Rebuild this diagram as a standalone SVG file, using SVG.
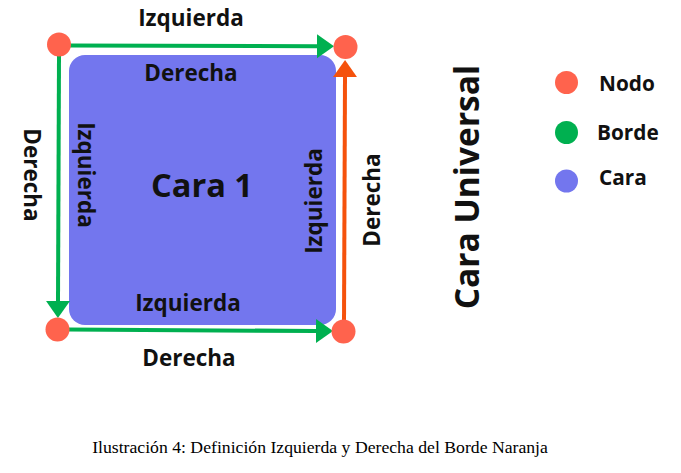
<svg xmlns="http://www.w3.org/2000/svg" width="681" height="473" viewBox="0 0 681 473">
<style>
.lbl{font-family:"Open Sans","DejaVu Sans",sans-serif;font-weight:700;fill:#111;font-size:22.5px}
.leg{font-family:"Open Sans","DejaVu Sans",sans-serif;font-weight:700;fill:#111;font-size:20.8px}
.node{fill:#FF634D}
.edge{fill:none;stroke:#00B050;stroke-width:4}
.edge.orange{stroke:#F5520C}
.cap{font-family:"Liberation Serif","Times New Roman",serif;font-size:17.7px;fill:#000}
</style>
<defs>
<marker id="ag" markerUnits="userSpaceOnUse" markerWidth="20" markerHeight="26" refX="0" refY="12" orient="auto" viewBox="0 0 20 24">
<polygon points="0,0 17,12 0,24" fill="#00B050"/>
</marker>
<marker id="ao" markerUnits="userSpaceOnUse" markerWidth="20" markerHeight="26" refX="0" refY="12" orient="auto" viewBox="0 0 20 24">
<polygon points="0,0 17,12 0,24" fill="#F5520C"/>
</marker>
</defs>
<rect width="681" height="473" fill="#fff"/>
<g id="cara1">
<rect x="69" y="55" width="267" height="270" rx="16" fill="#7376EE"/>
<text class="lbl" x="191" y="81" text-anchor="middle">Derecha</text>
<text class="lbl" x="188" y="311" text-anchor="middle">Izquierda</text>
<text class="lbl" transform="translate(78,175) rotate(90)" text-anchor="middle">Izquierda</text>
<text class="lbl" transform="translate(322,201) rotate(-90)" text-anchor="middle">Izquierda</text>
<text class="lbl" x="202" y="197" text-anchor="middle" style="font-size:32.6px">Cara 1</text>
</g>
<g id="connectors">
<path class="edge" d="M70,45.5 L317,46.3" marker-end="url(#ag)"/>
<path class="edge" d="M59,56 L58,301" marker-end="url(#ag)"/>
<path class="edge" d="M68,329.5 L316,331" marker-end="url(#ag)"/>
<path class="edge orange" d="M344,325 L345,77" marker-end="url(#ao)"/>
<text class="lbl" x="191" y="26" text-anchor="middle">Izquierda</text>
<text class="lbl" x="189" y="366" text-anchor="middle">Derecha</text>
<text class="lbl" transform="translate(24,175) rotate(90)" text-anchor="middle">Derecha</text>
<text class="lbl" transform="translate(380,200) rotate(-90)" text-anchor="middle">Derecha</text>
</g>
<g id="n1"><circle class="node" cx="59" cy="44.5" r="12"/></g>
<g id="n2"><circle class="node" cx="345.5" cy="47" r="12"/></g>
<g id="n3"><circle class="node" cx="57.5" cy="329.5" r="12"/></g>
<g id="n4"><circle class="node" cx="343.5" cy="331.5" r="12"/></g>
<g id="universal">
<text class="lbl" transform="translate(479,187) rotate(-90)" text-anchor="middle" style="font-size:33.5px">Cara Universal</text>
</g>
<g id="legend">
<circle cx="566.5" cy="82.5" r="11.5" fill="#FF634D"/>
<text class="leg" x="599" y="90.5">Nodo</text>
<circle cx="566.5" cy="132.5" r="11.5" fill="#00B050"/>
<text class="leg" x="597" y="140">Borde</text>
<circle cx="566.5" cy="181" r="11.5" fill="#7376EE"/>
<text class="leg" x="599" y="185">Cara</text>
</g>
<text class="cap" x="320" y="452.5" text-anchor="middle">Ilustración 4: Definición Izquierda y Derecha del Borde Naranja</text>
</svg>
